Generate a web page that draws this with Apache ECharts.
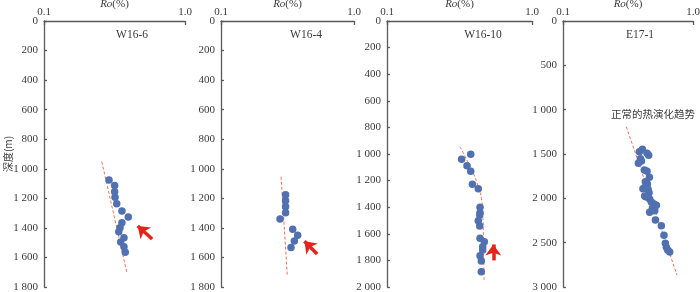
<!DOCTYPE html>
<html><head><meta charset="utf-8">
<script src="https://cdn.jsdelivr.net/npm/echarts@6/dist/echarts.min.js"></script>
<style>html,body{margin:0;padding:0;background:#fff}#c{width:700px;height:292px}</style>
</head><body><div id="c"></div>
<script>
// ---- data ----
const panelNames = ['W16-6', 'W16-4', 'W16-10', 'E17-1'];
const depthMax = [1800, 1800, 2000, 3000];
const depthStep = [200, 200, 200, 500];
const roTicks = [0.1, 1.0];

const w166Ro    = [0.289,0.317,0.317,0.319,0.328,0.357,0.396,0.357,0.346,0.339,0.369,0.350,0.369,0.377];
const w166Depth = [1076,1114,1155,1193,1236,1286,1326,1365,1399,1426,1466,1496,1527,1565];
const w166TrendRo = [0.257, 0.386];
const w166TrendDepth = [952, 1697];
const w166ArrowRo = [0.585, 0.462];
const w166ArrowDepth = [1475, 1387];

const w164Ro    = [0.306,0.306,0.306,0.306,0.278,0.346,0.377,0.356,0.336];
const w164Depth = [1175,1216,1257,1297,1340,1410,1450,1489,1533];
const w164TrendRo = [0.283, 0.315];
const w164TrendDepth = [1054, 1719];
const w164ArrowRo = [0.528, 0.424];
const w164ArrowDepth = [1577, 1490];

const w1610Ro    = [0.378,0.327,0.356,0.378,0.388,0.426,0.438,0.438,0.436,0.426,0.436,0.438,0.469,0.457,0.457,0.438,0.447,0.447];
const w1610Depth = [1002,1040,1088,1130,1228,1261,1401,1441,1459,1502,1541,1634,1659,1697,1722,1765,1805,1885];
const w1610TrendRo = [0.319,0.355,0.394,0.426,0.450,0.457,0.462,0.464,0.467];
const w1610TrendDepth = [945,1045,1145,1246,1346,1446,1597,1747,1947];
const w1610ArrowRo = [0.541, 0.541];
const w1610ArrowDepth = [1800, 1680];

const e171Ro    = [0.408,0.387,0.443,0.456,0.394,0.401,0.380,0.423,0.443,0.462,0.430,0.446,0.427,0.451,0.412,0.459,0.433,0.451,0.425,0.464,0.478,0.501,0.523,0.487,0.508,0.464,0.514,0.571,0.598,0.613,0.624,0.639,0.662];
const e171Depth = [1447,1474,1492,1515,1553,1579,1605,1680,1695,1763,1812,1838,1876,1898,1891,1936,1981,1988,1974,2007,2041,2064,2079,2112,2139,2158,2244,2308,2417,2507,2552,2583,2605];
const e171TrendRo = [0.307, 0.753];
const e171TrendDepth = [1192, 2865];
const trendLabel = '正常的热演化趋势';

// ---- layout ----
const grids = [
  {left: 44, width: 141},
  {left: 221, width: 133},
  {left: 387, width: 145},
  {left: 563, width: 130}
];
const titleX = [132, 306, 483, 640];
const serif = '"Liberation Serif", "Times New Roman", serif';
const axisColor = '#5a5a5a';
const textColor = '#3a3a3a';
const dotColor = '#5070b0';
const trendColor = '#f0705c';
const arrowColor = '#e4241c';

function zip(a, b) { return a.map((v, i) => [v, b[i]]); }
function fmtDepth(v) { return v >= 1000 ? String(v).replace(/(\d)(\d{3})$/, '$1 $2') : String(v); }

const panels = [
  {ro: w166Ro, d: w166Depth, tr: w166TrendRo, td: w166TrendDepth, ar: w166ArrowRo, ad: w166ArrowDepth, smooth: false},
  {ro: w164Ro, d: w164Depth, tr: w164TrendRo, td: w164TrendDepth, ar: w164ArrowRo, ad: w164ArrowDepth, smooth: false},
  {ro: w1610Ro, d: w1610Depth, tr: w1610TrendRo, td: w1610TrendDepth, ar: w1610ArrowRo, ad: w1610ArrowDepth, smooth: true},
  {ro: e171Ro, d: e171Depth, tr: e171TrendRo, td: e171TrendDepth, ar: null, ad: null, smooth: false}
];

const option = {
  animation: false,
  backgroundColor: '#fff',
  grid: grids.map(g => ({left: g.left, width: g.width, top: 21, height: 266, containLabel: false, outerBoundsMode: 'none'})),
  xAxis: grids.map((g, i) => ({
    type: 'log', logBase: 10, min: roTicks[0], max: roTicks[1], gridIndex: i, position: 'top',
    name: '{i|Ro}(%)', nameLocation: 'middle', nameGap: 11, nameMoveOverlap: false,
    nameTextStyle: {fontFamily: serif, fontSize: 11, color: textColor,
      rich: {i: {fontFamily: serif, fontSize: 11, fontStyle: 'italic', color: textColor}}},
    axisLine: {lineStyle: {color: axisColor, width: 1.3}},
    axisTick: {inside: true, length: 4, lineStyle: {color: axisColor, width: 1.3}},
    minorTick: {show: false},
    splitLine: {show: false},
    axisLabel: {margin: 3, fontFamily: serif, fontSize: 11, color: textColor,
      formatter: v => Number(v).toFixed(1)}
  })),
  yAxis: grids.map((g, i) => ({
    type: 'value', inverse: true, min: 0, max: depthMax[i], interval: depthStep[i], gridIndex: i,
    name: i === 0 ? '深度(m)' : '', nameLocation: 'middle', nameGap: 31, nameRotate: 90, nameMoveOverlap: false,
    nameTextStyle: {fontFamily: '"Noto Sans CJK SC", sans-serif', fontSize: 10, color: textColor},
    axisLine: {lineStyle: {color: axisColor, width: 1.3}},
    axisTick: {inside: true, length: 3, lineStyle: {color: axisColor, width: 1.3}},
    splitLine: {show: false},
    axisLabel: {margin: 6, fontFamily: serif, fontSize: 11, color: textColor, formatter: fmtDepth}
  })),
  graphic: panelNames.map((n, i) => ({
    type: 'text', x: titleX[i], y: 35, silent: true,
    style: {text: n, fontFamily: serif, fontSize: 11.5, fill: textColor, textAlign: 'center', textVerticalAlign: 'middle'}
  })).concat([{
    type: 'text', x: 611, y: 109, silent: true,
    style: {text: trendLabel, fontFamily: '"Noto Sans CJK SC", sans-serif', fontSize: 10.5, fill: textColor}
  }]),
  series: []
};

panels.forEach((p, i) => {
  const trend = {
    type: 'line', xAxisIndex: i, yAxisIndex: i, data: zip(p.tr, p.td), symbol: 'none', smooth: p.smooth,
    lineStyle: {color: trendColor, width: 1, type: [3, 2]}, silent: true, z: 2
  };
  if (p.ar) {
    trend.markLine = {
      silent: true, symbol: ['none', 'arrow'], symbolSize: [12, 11],
      lineStyle: {color: arrowColor, width: 3.5, type: 'solid'}, label: {show: false},
      data: [[{coord: [p.ar[0], p.ad[0]]}, {coord: [p.ar[1], p.ad[1]]}]]
    };
  }
  option.series.push(trend);
  option.series.push({
    type: 'scatter', xAxisIndex: i, yAxisIndex: i, data: zip(p.ro, p.d), symbolSize: 7.5,
    itemStyle: {color: dotColor, opacity: 1}, z: 3
  });
});

const chart = echarts.init(document.getElementById('c'), null, {renderer: 'canvas'});
chart.setOption(option);
</script></body></html>
